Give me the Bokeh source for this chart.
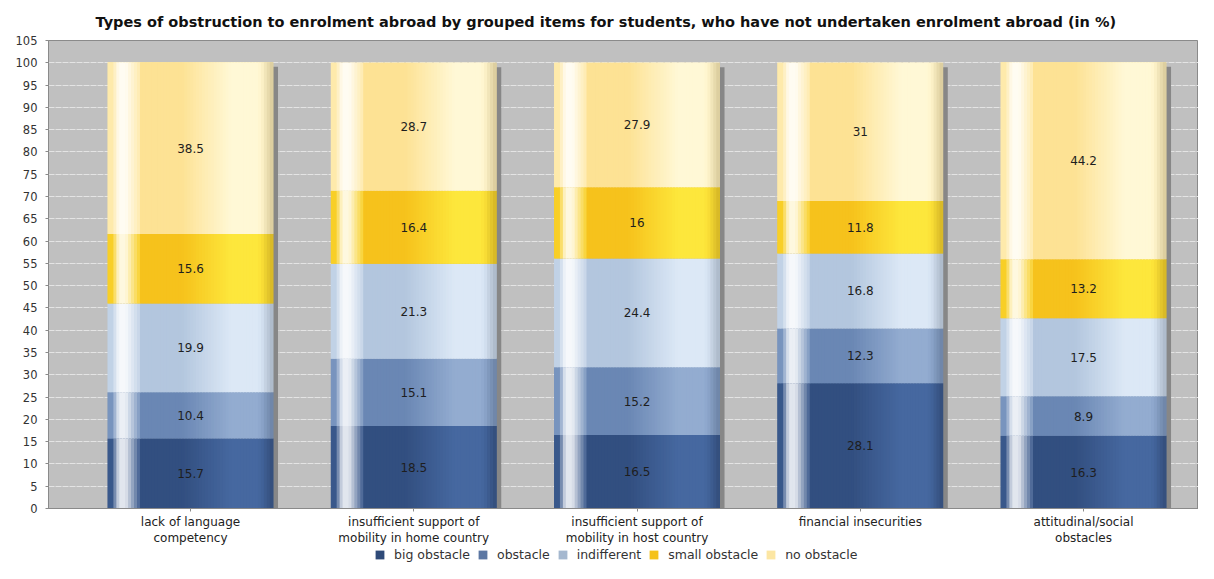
import numpy as np
from bokeh.plotting import figure
from bokeh.layouts import column
from bokeh.models import (ColumnDataSource, FixedTicker, Legend, LegendItem, Range1d)
from bokeh.embed import file_html
from bokeh.resources import INLINE
from bokeh.core.properties import value

# ---- data ----
categories = ["lack of language\ncompetency",
              "insufficient support of\nmobility in home country",
              "insufficient support of\nmobility in host country",
              "financial insecurities",
              "attitudinal/social\nobstacles"]
series = ["big obstacle", "obstacle", "indifferent", "small obstacle", "no obstacle"]
big_obstacle   = [15.7, 18.5, 16.5, 28.1, 16.3]
obstacle       = [10.4, 15.1, 15.2, 12.3, 8.9]
indifferent    = [19.9, 21.3, 24.4, 16.8, 17.5]
small_obstacle = [15.6, 16.4, 16.0, 11.8, 13.2]
no_obstacle    = [38.5, 28.7, 27.9, 31.0, 44.2]
y_ticks = list(range(0, 106, 5))

title_text = ("Types of obstruction to enrolment abroad by grouped items for students, "
              "who have not undertaken enrolment abroad (in %)")

# styles
dark_colors  = ["#324f80", "#6a87b4", "#b3c6de", "#f6c21c", "#fde294"]
light_colors = ["#4668a0", "#93acd0", "#dce8f6", "#fde73c", "#fff8d6"]
legend_colors = ["#2f4a78", "#5c77a3", "#a5b8cf", "#f5c21a", "#fce6a3"]

values = [big_obstacle, obstacle, indifferent, small_obstacle, no_obstacle]
xs = np.arange(len(categories), dtype=float)
W = 0.74

data = {"x": xs}
for name, vals in zip(series, values):
    data[name] = vals
src = ColumnDataSource(data)

p = figure(width=1198, height=548, output_backend="svg", toolbar_location=None,
           x_range=Range1d(-0.636, 4.515), y_range=Range1d(0, 105),
           min_border_left=48, min_border_right=0, min_border_top=40, min_border_bottom=40)
p.background_fill_color = "#c0c0c0"
p.border_fill_color = "white"
p.outline_line_color = "#8a8a8a"

p.title.text = title_text
p.title.align = "left"
p.title.offset = 47
p.title.text_font = "DejaVu Sans"
p.title.text_font_size = "14.5px"
p.title.text_font_style = "bold"
p.title.text_color = "#111111"
p.title.standoff = 22

p.xgrid.grid_line_color = None
p.ygrid.grid_line_color = "#e4e4e4"
p.ygrid.grid_line_dash = "6 1"

# shadows
totals = np.sum(np.array(values), axis=0)
p.vbar(x=xs + 0.022, width=W, bottom=0, top=totals - 1.0,
       fill_color="#878787", line_color=None)

# stacked bars
renderers = p.vbar_stack(series, x="x", width=W, color=dark_colors, source=src,
                         line_color=None)

# cylinder shading: opaque strips over each stacked segment
def hex2rgb(h):
    h = h.lstrip("#")
    return np.array([int(h[i:i + 2], 16) for i in (0, 2, 4)], dtype=float)

def rgb2hex(c):
    c = np.clip(np.round(c), 0, 255).astype(int)
    return "#%02x%02x%02x" % tuple(c)

def profile(t):
    if t < 0.2:
        m = 0.35
    elif t < 0.45:
        m = 0.0
    elif t < 0.75:
        m = (t - 0.45) / 0.30
    elif t < 0.9:
        m = 1.0
    else:
        m = 1.0 - (t - 0.9) / 0.1 * 0.5
    if t < 0.03:
        h = 0.0
    elif t < 0.07:
        h = (t - 0.03) / 0.04 * 0.85
    elif t < 0.11:
        h = 0.85
    elif t < 0.2:
        h = 0.85 * (1 - (t - 0.11) / 0.09)
    else:
        h = 0.0
    e = 0.0 if t < 0.93 else (t - 0.93) / 0.07 * 0.15
    return m, h, e

N = 56
sx, sb, st, sc = [], [], [], []
white = np.array([255.0, 255.0, 255.0])
for k in range(len(xs)):
    base = 0.0
    for si, vals in enumerate(values):
        v = vals[k]
        d = hex2rgb(dark_colors[si]); l = hex2rgb(light_colors[si])
        for i in range(N):
            t = (i + 0.5) / N
            m, h, e = profile(t)
            c = d + (l - d) * m
            c = c + (white - c) * h
            c = c * (1 - e)
            sx.append(xs[k] - W / 2 + t * W)
            sb.append(base); st.append(base + v); sc.append(rgb2hex(c))
        base += v
shade = ColumnDataSource(dict(x=sx, bottom=sb, top=st, c=sc))
p.vbar(x="x", top="top", bottom="bottom", width=W / N * 1.25, fill_color="c",
       line_color=None, source=shade)

# value labels
lx, ly, lt = [], [], []
for k in range(len(xs)):
    base = 0.0
    for vals in values:
        v = vals[k]
        lx.append(xs[k]); ly.append(base + v / 2)
        lt.append("%g" % v)
        base += v
p.text(x=lx, y=ly, text=lt, text_align="center", text_baseline="middle",
       text_font=value("DejaVu Sans"), text_font_size="12px", text_color="#1e1e1e")

# axes
p.xaxis.ticker = FixedTicker(ticks=list(xs))
p.xaxis.major_label_overrides = {float(x): c for x, c in zip(xs, categories)}
p.xaxis.major_label_text_font = "DejaVu Sans"
p.xaxis.major_label_text_font_size = "12px"
p.xaxis.major_label_text_color = "#222222"
p.xaxis.axis_line_color = "#8a8a8a"
p.xaxis.major_tick_line_color = "#8a8a8a"
p.xaxis.major_tick_out = 3
p.xaxis.major_tick_in = 0
p.xaxis.minor_tick_line_color = None
p.xaxis.major_label_standoff = 3

p.yaxis.ticker = FixedTicker(ticks=y_ticks)
p.yaxis.major_label_text_font = "DejaVu Sans"
p.yaxis.major_label_text_font_size = "11.5px"
p.yaxis.major_label_text_color = "#333333"
p.yaxis.axis_line_color = "#8a8a8a"
p.yaxis.major_tick_line_color = "#8a8a8a"
p.yaxis.major_tick_out = 3
p.yaxis.major_tick_in = 0
p.yaxis.minor_tick_line_color = None
p.yaxis.major_label_standoff = 8

# legend in a small strip below
lf = figure(width=1198, height=15, output_backend="svg", toolbar_location=None,
            x_range=Range1d(0, 1), y_range=Range1d(0, 1),
            x_axis_location=None, y_axis_location=None, min_border=0)
lf.outline_line_color = None
lf.xgrid.grid_line_color = None
lf.ygrid.grid_line_color = None
items = []
for name, col in zip(series, legend_colors):
    # legend proxy glyph, kept outside the visible range
    r = lf.quad(left=[-3], right=[-2], top=[-2], bottom=[-3], fill_color=col, line_color=None)
    items.append(LegendItem(label=name, renderers=[r]))
legend = Legend(items=items, orientation="horizontal", location=(326, 1),
                glyph_width=11, glyph_height=11, label_text_font="DejaVu Sans",
                label_text_font_size="12.5px", label_text_color="#333333",
                spacing=7, padding=0, margin=0, border_line_color=None,
                background_fill_alpha=0, label_standoff=9, label_height=13)
lf.add_layout(legend, "center")

layout = column(p, lf, spacing=0)
open("out.html", "w").write(file_html(layout, INLINE))
